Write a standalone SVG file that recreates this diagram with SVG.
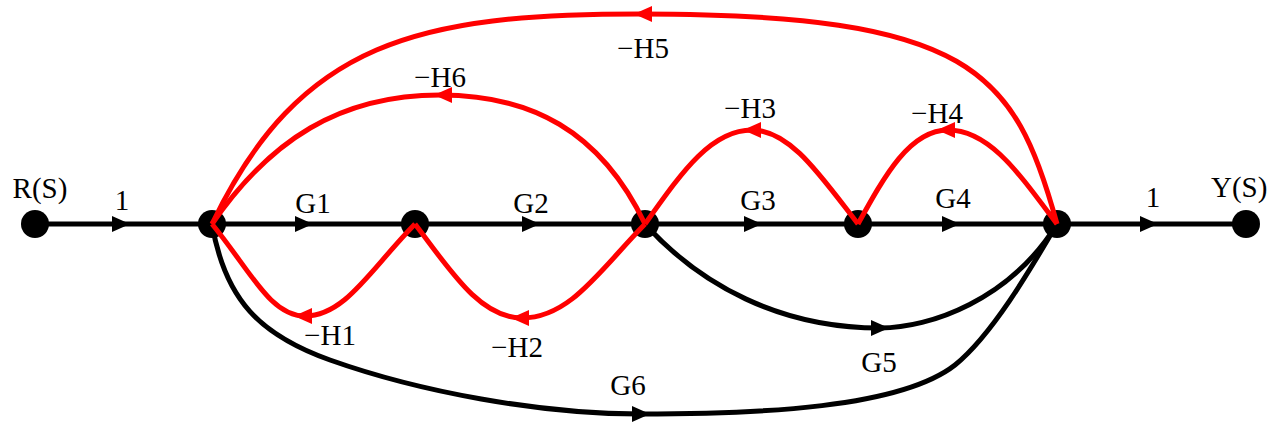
<svg xmlns="http://www.w3.org/2000/svg" xmlns:xlink="http://www.w3.org/1999/xlink" width="1270" height="425" viewBox="0 0 1270 425">
<style>
.bg{fill:#ffffff}
.node{fill:#000000}
.fw{fill:none;stroke:#000000;stroke-width:5}
.fb{fill:none;stroke:#ff0000;stroke-width:5}
.ahk{fill:#000000}
.ahr{fill:#ff0000}
.lbl{font-family:"Liberation Serif","Times New Roman",serif;font-size:29px;fill:#000000;text-anchor:middle}
.lbs{font-family:"Liberation Serif","Times New Roman",serif;font-size:29px;fill:#000000}
</style>
<defs>
<path id="ah" d="M9,0 L-9,-8 L-9,8 Z"/>
</defs>
<rect class="bg" x="0" y="0" width="1270" height="425"/>
<g id="nodes">
<g id="R"><circle class="node" cx="35" cy="224" r="14"/><text class="lbl" x="40" y="198">R(S)</text></g>
<g id="n1"><circle class="node" cx="212" cy="224" r="14"/></g>
<g id="n2"><circle class="node" cx="415" cy="224" r="14"/></g>
<g id="n3"><circle class="node" cx="645" cy="224" r="14"/></g>
<g id="n4"><circle class="node" cx="858" cy="224" r="14"/></g>
<g id="n5"><circle class="node" cx="1057" cy="224" r="14"/></g>
<g id="Y"><circle class="node" cx="1246" cy="224" r="14"/><text class="lbs" x="1211" y="197">Y(S)</text></g>
</g>
<g id="connectors">
<g id="e-R-n1"><path class="fw" d="M35,224 L212,224"/><use xlink:href="#ah" class="ahk" transform="translate(121,224)"/><text class="lbl" x="122" y="210">1</text></g>
<g id="e-G1"><path class="fw" d="M212,224 L415,224"/><use xlink:href="#ah" class="ahk" transform="translate(304,224)"/><text class="lbl" x="313" y="213">G1</text></g>
<g id="e-G2"><path class="fw" d="M415,224 L645,224"/><use xlink:href="#ah" class="ahk" transform="translate(531,224)"/><text class="lbl" x="531" y="213">G2</text></g>
<g id="e-G3"><path class="fw" d="M645,224 L858,224"/><use xlink:href="#ah" class="ahk" transform="translate(753,224)"/><text class="lbl" x="758" y="210">G3</text></g>
<g id="e-G4"><path class="fw" d="M858,224 L1057,224"/><use xlink:href="#ah" class="ahk" transform="translate(951,224)"/><text class="lbl" x="953" y="208">G4</text></g>
<g id="e-n5-Y"><path class="fw" d="M1057,224 L1246,224"/><use xlink:href="#ah" class="ahk" transform="translate(1149,224)"/><text class="lbl" x="1153" y="207">1</text></g>
<g id="e-G5"><path class="fw" d="M645,224 C700,285 780,328 880,328 C930,328 1010,300 1057,224"/><use xlink:href="#ah" class="ahk" transform="translate(880,328)"/><text class="lbl" x="879" y="372">G5</text></g>
<g id="e-G6"><path class="fw" d="M212,224 C225,300 260,335 330,360 C420,392 540,414 640,414 C760,414 900,408 955,365 C992,335 1030,270 1057,224"/><use xlink:href="#ah" class="ahk" transform="translate(641,414)"/><text class="lbl" x="628" y="395">G6</text></g>
<g id="e-H1"><path class="fb" d="M415,224 C370,270 345,316 305,316 C270,316 250,270 212,224"/><use xlink:href="#ah" class="ahr" transform="translate(303,316) rotate(180)"/><text class="lbl" x="330" y="345">−H1</text></g>
<g id="e-H2"><path class="fb" d="M645,224 C600,270 570,318 522,318 C480,318 450,270 415,224"/><use xlink:href="#ah" class="ahr" transform="translate(520,318) rotate(180)"/><text class="lbl" x="517" y="357">−H2</text></g>
<g id="e-H3"><path class="fb" d="M858,224 C820,175 790,130 752,130 C710,130 680,175 645,224"/><use xlink:href="#ah" class="ahr" transform="translate(752,130) rotate(180)"/><text class="lbl" x="750" y="118">−H3</text></g>
<g id="e-H4"><path class="fb" d="M1057,224 C1020,175 990,130 948,130 C910,130 885,175 858,224"/><use xlink:href="#ah" class="ahr" transform="translate(946,130) rotate(180)"/><text class="lbl" x="937" y="123">−H4</text></g>
<g id="e-H5"><path class="fb" d="M1057,224 C1015,70 970,14 640,14 C420,14 300,40 212,224"/><use xlink:href="#ah" class="ahr" transform="translate(643,14) rotate(180)"/><text class="lbl" x="643" y="58">−H5</text></g>
<g id="e-H6"><path class="fb" d="M645,224 C600,130 530,95 440,95 C340,95 270,140 212,224"/><use xlink:href="#ah" class="ahr" transform="translate(443,95) rotate(180)"/><text class="lbl" x="440" y="87">−H6</text></g>
</g>
</svg>
